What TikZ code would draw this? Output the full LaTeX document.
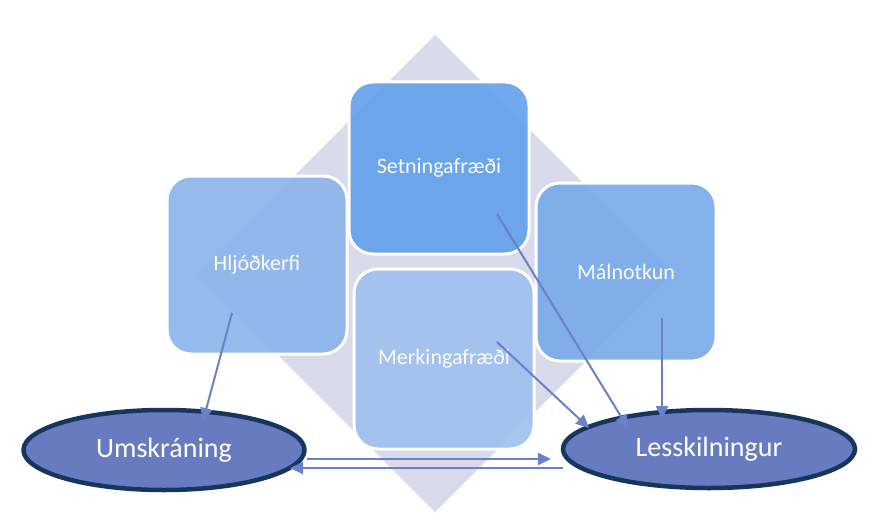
\documentclass[tikz,border=0pt]{standalone}
\usepackage{fontspec}
\setmainfont{Carlito}
\usetikzlibrary{arrows.meta,shapes.geometric}
\definecolor{diam}{HTML}{D9DAEA}
\definecolor{cSet}{HTML}{62A0EA}
\definecolor{cHlj}{HTML}{8AB4EC}
\definecolor{cMer}{HTML}{9EC0EE}
\definecolor{cMal}{HTML}{78AAEC}
\definecolor{ovalfill}{HTML}{687BC0}
\definecolor{ovalline}{HTML}{17365D}
\definecolor{arrowc}{HTML}{6B80CB}
\begin{document}
\begin{tikzpicture}[x=1pt,y=-1pt,
  box/.style={rectangle, draw=white, line width=3pt, rounded corners=24pt,
    fill opacity=0.9, text opacity=0.95, text=white,
    font=\fontsize{22}{26}\selectfont, inner sep=0pt},
  oval/.style={ellipse, draw=ovalline, line width=4.5pt, fill=ovalfill,
    text=white, font=\fontsize{28}{32}\selectfont, inner sep=0pt},
  link/.style={draw=arrowc, line width=2pt, -{Triangle[length=13pt,width=12pt]}}]
\useasboundingbox (0,0) rectangle (869,516);
\fill[white] (0,0) rectangle (869,516);
% background diamond
\fill[diam] (435,35) -- (673.5,273.5) -- (435,512) -- (196.5,273.5) -- cycle;
% boxes
\node[box, fill=cHlj, minimum width=180pt, minimum height=178pt] (hl) at (257,265) {Hljóðkerfi};
\node[box, fill=cSet, minimum width=180pt, minimum height=172pt] (se) at (439,168) {Setningafræði};
\node[box, fill=cMal, minimum width=180pt, minimum height=178pt] (ma) at (626,272) {Málnotkun};
\node[box, fill=cMer, minimum width=180pt, minimum height=180pt] (me) at (444,359) {Merkingafræði};
% ovals
\node[oval, minimum width=281pt, minimum height=80pt] (um) at (164,450) {Umskráning};
\node[oval, minimum width=292pt, minimum height=78pt] (le) at (709,449) {Lesskilningur};
% connector end points
\coordinate (hlA) at (232,313);
\coordinate (umA) at (203,421);
\coordinate (seA) at (497,214);
\coordinate (leA) at (628,428);
\coordinate (meA) at (497,342);
\coordinate (leB) at (589,428);
\coordinate (maA) at (662,318);
\coordinate (leC) at (662,419);
\coordinate (umR) at (307,459);
\coordinate (leL) at (551,459);
\coordinate (leR) at (563,468);
\coordinate (umL) at (290,468);
% connectors
\draw[link] (hlA) -- (umA);
\draw[link] (seA) -- (leA);
\draw[link] (meA) -- (leB);
\draw[link] (maA) -- (leC);
\draw[link] (umR) -- (leL);
\draw[link] (leR) -- (umL);
\end{tikzpicture}
\end{document}
